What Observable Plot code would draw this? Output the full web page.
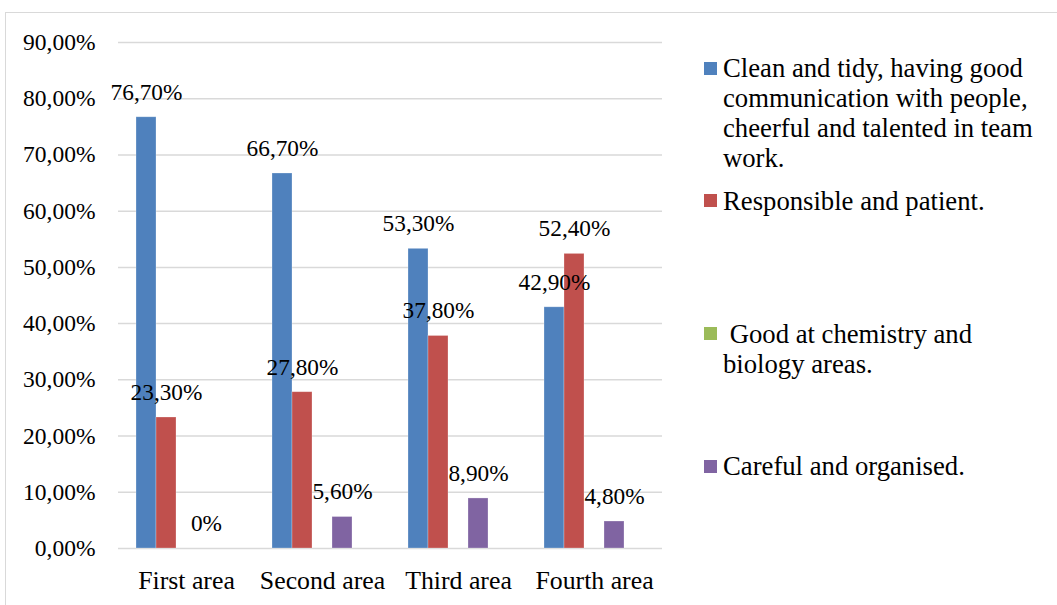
<!DOCTYPE html>
<html>
<head>
<meta charset="utf-8">
<script src="https://cdn.jsdelivr.net/npm/d3@7"></script>
<script src="https://cdn.jsdelivr.net/npm/@observablehq/plot@0.6"></script>
<style>
  html, body { margin: 0; padding: 0; background: #fff; }
  #wrap { position: relative; width: 1057px; height: 605px; overflow: hidden; font-family: "Liberation Serif", "Times New Roman", serif; }
  #frame { position: absolute; left: 5px; top: 12px; width: 1100px; height: 700px; border-top: 1.5px solid #d9d9d9; border-left: 1.5px solid #d9d9d9; }
  #chart { position: absolute; left: 0; top: 0; }
  .lg-sw { position: absolute; width: 13px; height: 13px; }
  .lg-tx { position: absolute; font-size: 26.7px; line-height: 30px; white-space: nowrap; color: #000; font-family: "Liberation Serif", "Times New Roman", serif; }
</style>
</head>
<body>
<div id="wrap"><div id="frame"></div><div id="chart"></div></div>
<script>
const areas = ["First area", "Second area", "Third area", "Fourth area"];
const seriesNames = [
  "Clean and tidy, having good communication with people, cheerful and talented in team work.",
  "Responsible and patient.",
  "Good at chemistry and biology areas.",
  "Careful and organised."
];
const seriesColors = ["#4F81BD", "#C0504D", "#9BBB59", "#8064A2"];
const cleanTidy   = [76.7, 66.7, 53.3, 42.9];
const responsible = [23.3, 27.8, 37.8, 52.4];
const chemBio     = [null, null, null, null];
const careful     = [0, 5.6, 8.9, 4.8];
const yTicks = [0, 10, 20, 30, 40, 50, 60, 70, 80, 90];
const legendLines = [
  ["Clean and tidy, having good", "communication with people,", "cheerful and talented in team", "work."],
  ["Responsible and patient."],
  ["\u00a0Good at chemistry and", "biology areas."],
  ["Careful and organised."]
];

const seriesValues = [cleanTidy, responsible, chemBio, careful];
const slots = [...seriesNames, "(unused)"];
const data = [];
seriesValues.forEach((vals, si) => {
  vals.forEach((v, ai) => {
    if (v != null) data.push({area: areas[ai], series: seriesNames[si], value: v});
  });
});

const pctLabel = v => v === 0 ? "0%" : v.toFixed(2).replace(".", ",") + "%";
const serif = "'Liberation Serif', 'Times New Roman', serif";

const chart = Plot.plot({
  width: 1057,
  height: 605,
  marginLeft: 117,
  marginRight: 394,
  marginTop: 42,
  marginBottom: 57,
  style: {fontFamily: serif, fontSize: "23px", color: "#000", background: "transparent", overflow: "visible"},
  fx: {domain: areas, padding: 0, label: null},
  x: {domain: slots, paddingInner: 0, paddingOuter: 0.75, axis: null},
  y: {domain: [0, 90], label: null},
  color: {domain: seriesNames, range: seriesColors},
  marks: [
    Plot.gridY(yTicks, {stroke: "#d9d9d9", strokeOpacity: 1, strokeWidth: 1.5}),
    Plot.axisY(yTicks, {tickSize: 0, tickPadding: 23, tickFormat: v => v.toFixed(2).replace(".", ",") + "%", fontSize: 23.5, fontFamily: serif, label: null}),
    Plot.axisFx({anchor: "bottom", tickSize: 0, tickPadding: 22, fontSize: 25.8, fontFamily: serif, label: null}),
    Plot.barY(data, {fx: "area", x: "series", y: "value", fill: "series", stroke: "#ffffff", strokeOpacity: 0.35, strokeWidth: 0.75}),
    Plot.text(data, {fx: "area", x: "series", y: "value", text: d => pctLabel(d.value), dy: -25, fontSize: 23.3, fontFamily: serif, fill: "#000"})
  ]
});
document.getElementById("chart").appendChild(chart);

// Legend
const wrap = document.getElementById("wrap");
const swatchTops = [62, 194, 327, 460];
const textTops = [53, 186, 319, 451];
seriesNames.forEach((name, i) => {
  const sw = document.createElement("div");
  sw.className = "lg-sw";
  sw.style.left = "704px";
  sw.style.top = swatchTops[i] + "px";
  sw.style.background = seriesColors[i];
  wrap.appendChild(sw);
  const tx = document.createElement("div");
  tx.className = "lg-tx";
  tx.style.left = "723px";
  tx.style.top = textTops[i] + "px";
  tx.innerHTML = legendLines[i].map(s => s.replace(/&/g, "&amp;").replace(/</g, "&lt;")).join("<br>");
  wrap.appendChild(tx);
});
</script>
</body>
</html>
